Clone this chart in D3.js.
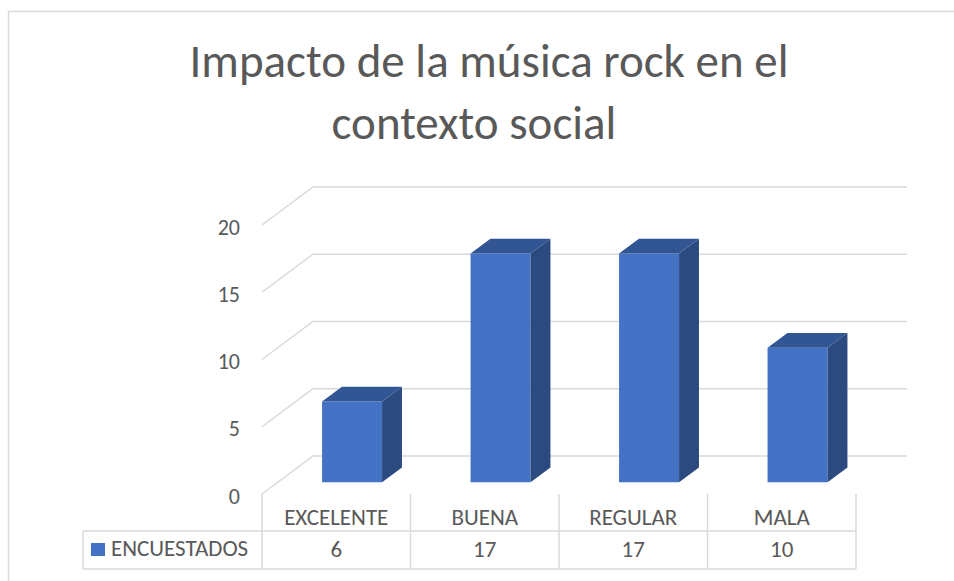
<!DOCTYPE html>
<html>
<head>
<meta charset="utf-8">
<script src="https://cdn.jsdelivr.net/npm/d3@7"></script>
<style>
  body { margin: 0; background: #fff; }
  svg { display: block; font-family: Calibri, Carlito, Lato, sans-serif; }
</style>
</head>
<body>
<div class="canvas"></div>
<script>
// data
const categories = ["EXCELENTE", "BUENA", "REGULAR", "MALA"];
const values = [6, 17, 17, 10];
const yTicks = [0, 5, 10, 15, 20];
const seriesName = "ENCUESTADOS";
const titleLines = ["Impacto de la música rock en el", "contexto social"];

const width = 954;
const height = 581;

const svg = d3
  .select(".canvas")
  .append("svg")
  .attr("width", width)
  .attr("height", height);

// chart border (only top + left visible in the picture)
svg
  .append("path")
  .attr("d", "M8.5,581 V11.5 H954")
  .attr("fill", "none")
  .attr("stroke", "#d9d9d9")
  .attr("stroke-width", 1.5);

// title (second line wraps with a trailing space, so it sits a bit left)
svg
  .append("g")
  .selectAll("text")
  .data(titleLines)
  .enter()
  .append("text")
  .attr("x", (d, i) => (i === 0 ? 489 : 474))
  .attr("y", (d, i) => 77 + i * 62)
  .attr("text-anchor", "middle")
  .attr("font-size", 47)
  .attr("fill", "#595959")
  .text((d) => d);

// 3d projection: depth offset of the floor
const depth = { dx: 51, dy: -38 };

// scales (front plane for x, back wall for y)
const x = d3.scaleBand().domain(categories).range([262, 856]);
const y = d3.scaleLinear().domain([0, 20]).range([456, 187]);

// project a point: front x, value, depth t (0 = front, 1 = back)
const proj = (px, v, t) => [px + t * depth.dx, y(v) + (1 - t) * -depth.dy];

// gridlines: front-left -> back-left -> back-right
const grid = svg.append("g").attr("class", "grid");
grid
  .selectAll("path")
  .data(yTicks)
  .enter()
  .append("path")
  .attr("d", (d) => {
    const a = proj(x.range()[0], d, 0);
    const b = proj(x.range()[0], d, 1);
    const c = proj(x.range()[1], d, 1);
    return `M${a}L${b}L${c}`;
  })
  .attr("fill", "none")
  .attr("stroke", "#d9d9d9")
  .attr("stroke-width", 1.5);

// y labels
svg
  .append("g")
  .selectAll("text")
  .data(yTicks)
  .enter()
  .append("text")
  .attr("x", 240)
  .attr("y", (d) => proj(x.range()[0], d, 0)[1] + 2)
  .attr("text-anchor", "end")
  .attr("dominant-baseline", "central")
  .attr("font-size", 22)
  .attr("fill", "#595959")
  .text((d) => d);

// bars
const barW = x.bandwidth() * 0.404;
const t0 = 0.31;
const t1 = 0.7;
const bars = svg
  .append("g")
  .selectAll("g")
  .data(categories.map((c, i) => ({ cat: c, value: values[i] })))
  .enter()
  .append("g");

const poly = (pts) => "M" + pts.map((p) => p.join(",")).join("L") + "Z";

bars.each(function (d) {
  const g = d3.select(this);
  const x0 = x(d.cat) + x.bandwidth() / 2 - barW / 2;
  const x1 = x0 + barW;
  // front face
  g.append("path")
    .attr("d", poly([proj(x0, 0, t0), proj(x1, 0, t0), proj(x1, d.value, t0), proj(x0, d.value, t0)]))
    .attr("fill", "#4472c4");
  // side face
  g.append("path")
    .attr("d", poly([proj(x1, 0, t0), proj(x1, 0, t1), proj(x1, d.value, t1), proj(x1, d.value, t0)]))
    .attr("fill", "#2b4a80");
  // top face
  g.append("path")
    .attr("d", poly([proj(x0, d.value, t0), proj(x1, d.value, t0), proj(x1, d.value, t1), proj(x0, d.value, t1)]))
    .attr("fill", "#325594");
});

// data table
const tableTop = proj(x.range()[0], 0, 0)[1];
const rowTop = 531;
const rowBottom = 569;
const tableLeft = 83;
const table = svg.append("g").attr("stroke", "#d9d9d9").attr("stroke-width", 1.5);

const colEdges = categories.map((c) => x(c)).concat([x.range()[1]]);
table
  .selectAll("line.v")
  .data(colEdges)
  .enter()
  .append("line")
  .attr("x1", (d) => d)
  .attr("x2", (d) => d)
  .attr("y1", tableTop)
  .attr("y2", rowBottom);

table.append("line").attr("x1", tableLeft).attr("x2", tableLeft).attr("y1", rowTop).attr("y2", rowBottom);
table.append("line").attr("x1", tableLeft).attr("x2", x.range()[1]).attr("y1", rowTop).attr("y2", rowTop);
table.append("line").attr("x1", tableLeft).attr("x2", x.range()[1]).attr("y1", rowBottom).attr("y2", rowBottom);

// category labels
svg
  .append("g")
  .selectAll("text")
  .data(categories)
  .enter()
  .append("text")
  .attr("x", (d) => x(d) + x.bandwidth() / 2)
  .attr("y", 525)
  .attr("text-anchor", "middle")
  .attr("font-size", 23)
  .attr("fill", "#595959")
  .text((d) => d);

// value row
svg
  .append("g")
  .selectAll("text")
  .data(values)
  .enter()
  .append("text")
  .attr("x", (d, i) => x(categories[i]) + x.bandwidth() / 2)
  .attr("y", 557)
  .attr("text-anchor", "middle")
  .attr("font-size", 23)
  .attr("fill", "#595959")
  .text((d) => d);

// legend key
svg.append("rect").attr("x", 91).attr("y", 543).attr("width", 14).attr("height", 13).attr("fill", "#4472c4");
svg
  .append("text")
  .attr("x", 111)
  .attr("y", 556)
  .attr("font-size", 23)
  .attr("fill", "#595959")
  .text(seriesName);
</script>
</body>
</html>
